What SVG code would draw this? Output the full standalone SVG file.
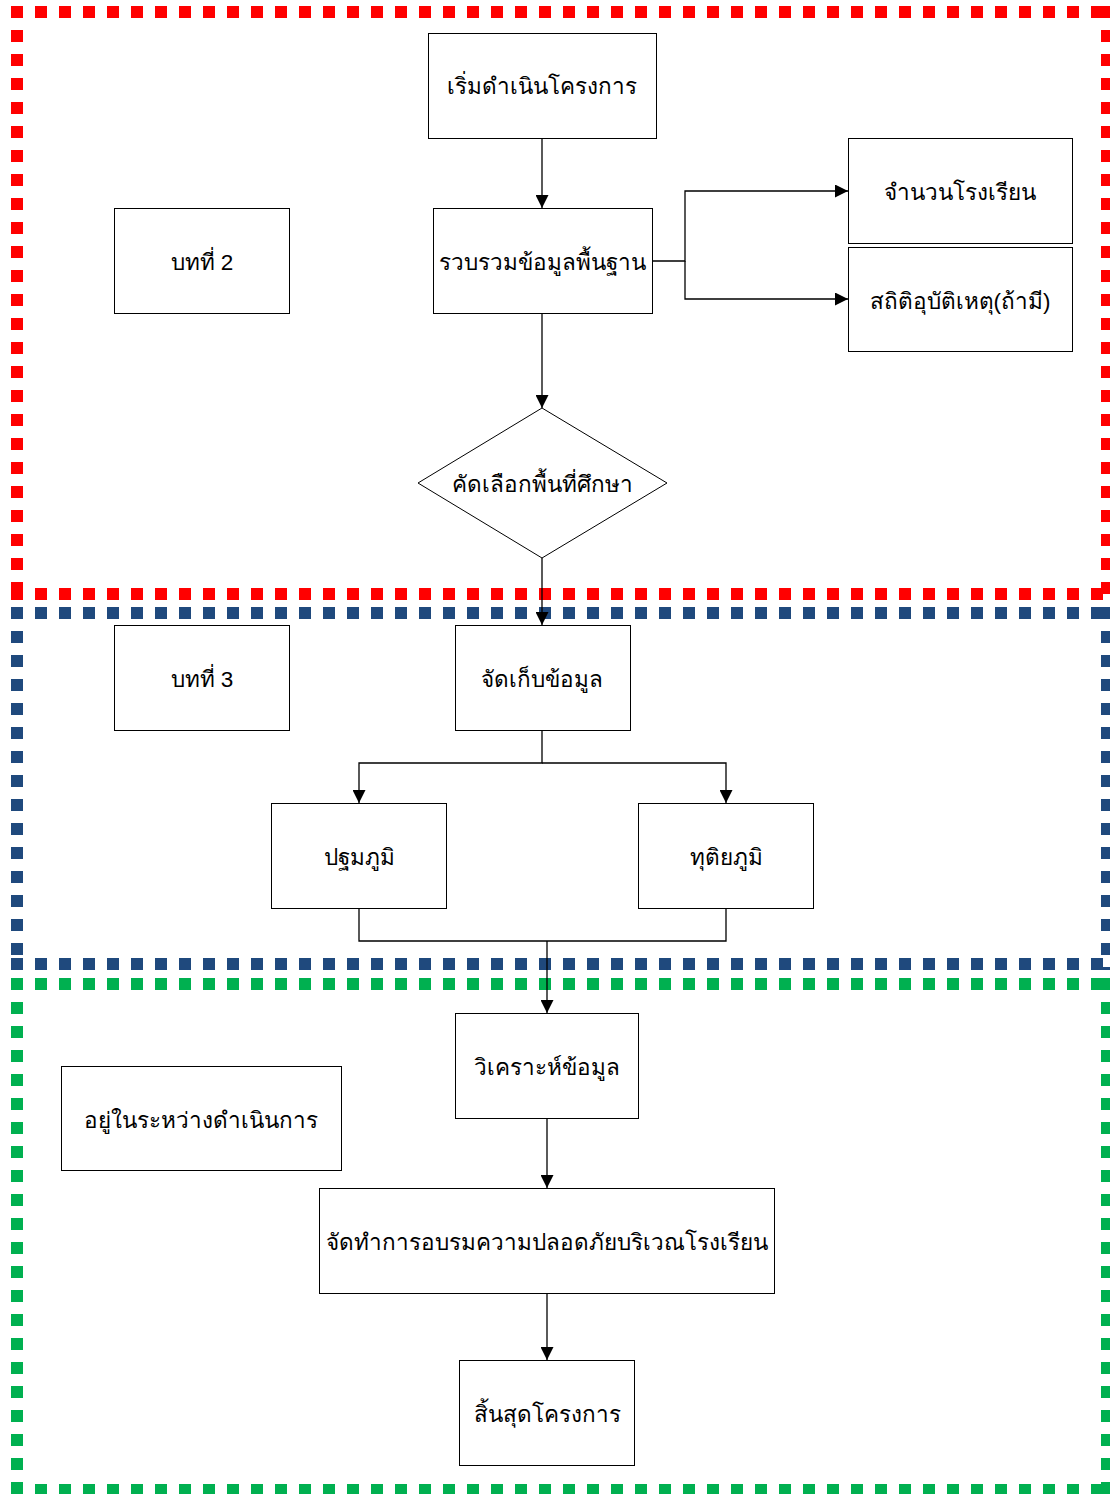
<svg xmlns="http://www.w3.org/2000/svg" width="1110" height="1494" viewBox="0 0 1110 1494">
<style>
.frame{fill:none;stroke-width:12;stroke-dasharray:12 12}
.red{stroke:#FF0000}
.blue{stroke:#1F497D}
.green{stroke:#00B050}
.box{fill:#fff;stroke:#000;stroke-width:1}
.lbl{font-family:"Liberation Sans","DejaVu Sans","Noto Sans",sans-serif;font-size:22.5px;fill:#000;text-anchor:middle}
.cn{fill:none;stroke:#000;stroke-width:1.3}
</style>
<defs>
<marker id="ah" viewBox="0 0 10 10" refX="10" refY="5" markerWidth="13" markerHeight="13" markerUnits="userSpaceOnUse" orient="auto">
<path d="M0,0 L10,5 L0,10 Z" fill="#000"/>
</marker>
</defs>
<rect width="1110" height="1494" fill="#fff"/>
<g id="frames">
<g id="frame-red">
<line class="frame red" x1="11" y1="12" x2="1113" y2="12"/>
<line class="frame red" x1="17" y1="6" x2="17" y2="600"/>
<line class="frame red" x1="1107" y1="6" x2="1107" y2="600"/>
<line class="frame red" x1="11" y1="594" x2="1113" y2="594"/>
</g>
<g id="frame-blue">
<line class="frame blue" x1="11" y1="613" x2="1113" y2="613"/>
<line class="frame blue" x1="17" y1="607" x2="17" y2="970"/>
<line class="frame blue" x1="1107" y1="607" x2="1107" y2="970"/>
<line class="frame blue" x1="11" y1="964" x2="1113" y2="964"/>
</g>
<g id="frame-green">
<line class="frame green" x1="11" y1="984" x2="1113" y2="984"/>
<line class="frame green" x1="17" y1="978" x2="17" y2="1496"/>
<line class="frame green" x1="1107" y1="978" x2="1107" y2="1496"/>
<line class="frame green" x1="11" y1="1490" x2="1113" y2="1490"/>
</g>
</g>
<g id="connectors">
<line class="cn" x1="542" y1="138" x2="542" y2="208" marker-end="url(#ah)"/>
<polyline class="cn" points="652,261 685,261 685,191 848,191" marker-end="url(#ah)"/>
<polyline class="cn" points="685,261 685,299 848,299" marker-end="url(#ah)"/>
<line class="cn" x1="542" y1="313" x2="542" y2="408" marker-end="url(#ah)"/>
<line class="cn" x1="542" y1="558" x2="542" y2="625" marker-end="url(#ah)"/>
<polyline class="cn" points="542,730 542,763 359,763 359,803" marker-end="url(#ah)"/>
<polyline class="cn" points="542,763 726,763 726,803" marker-end="url(#ah)"/>
<polyline class="cn" points="359,908 359,941 726,941 726,908"/>
<line class="cn" x1="547" y1="941" x2="547" y2="1013" marker-end="url(#ah)"/>
<line class="cn" x1="547" y1="1118" x2="547" y2="1188" marker-end="url(#ah)"/>
<line class="cn" x1="547" y1="1293" x2="547" y2="1360" marker-end="url(#ah)"/>
</g>
<g id="n-start"><rect class="box" x="428.5" y="33.5" width="228" height="105"/><text class="lbl" x="542" y="94">เริ่มดำเนินโครงการ</text></g>
<g id="n-ch2"><rect class="box" x="114.5" y="208.5" width="175" height="105"/><text class="lbl" x="202" y="270">บทที่ 2</text></g>
<g id="n-collect"><rect class="box" x="433.5" y="208.5" width="219" height="105"/><text class="lbl" x="542" y="270">รวบรวมข้อมูลพื้นฐาน</text></g>
<g id="n-schools"><rect class="box" x="848.5" y="138.5" width="224" height="105"/><text class="lbl" x="960" y="200">จำนวนโรงเรียน</text></g>
<g id="n-stats"><rect class="box" x="848.5" y="247.5" width="224" height="104"/><text class="lbl" x="960" y="309">สถิติอุบัติเหตุ(ถ้ามี)</text></g>
<g id="n-select"><polygon class="box" points="542,408 667,483 542,558 418,483"/><text class="lbl" x="542" y="492">คัดเลือกพื้นที่ศึกษา</text></g>
<g id="n-ch3"><rect class="box" x="114.5" y="625.5" width="175" height="105"/><text class="lbl" x="202" y="687">บทที่ 3</text></g>
<g id="n-store"><rect class="box" x="455.5" y="625.5" width="175" height="105"/><text class="lbl" x="542" y="687">จัดเก็บข้อมูล</text></g>
<g id="n-primary"><rect class="box" x="271.5" y="803.5" width="175" height="105"/><text class="lbl" x="359" y="865">ปฐมภูมิ</text></g>
<g id="n-secondary"><rect class="box" x="638.5" y="803.5" width="175" height="105"/><text class="lbl" x="726" y="865">ทุติยภูมิ</text></g>
<g id="n-analyze"><rect class="box" x="455.5" y="1013.5" width="183" height="105"/><text class="lbl" x="547" y="1075">วิเคราะห์ข้อมูล</text></g>
<g id="n-progress"><rect class="box" x="61.5" y="1066.5" width="280" height="104"/><text class="lbl" x="201" y="1128">อยู่ในระหว่างดำเนินการ</text></g>
<g id="n-training"><rect class="box" x="319.5" y="1188.5" width="455" height="105"/><text class="lbl" x="547" y="1250">จัดทำการอบรมความปลอดภัยบริเวณโรงเรียน</text></g>
<g id="n-end"><rect class="box" x="459.5" y="1360.5" width="175" height="105"/><text class="lbl" x="547" y="1422">สิ้นสุดโครงการ</text></g>
</svg>
